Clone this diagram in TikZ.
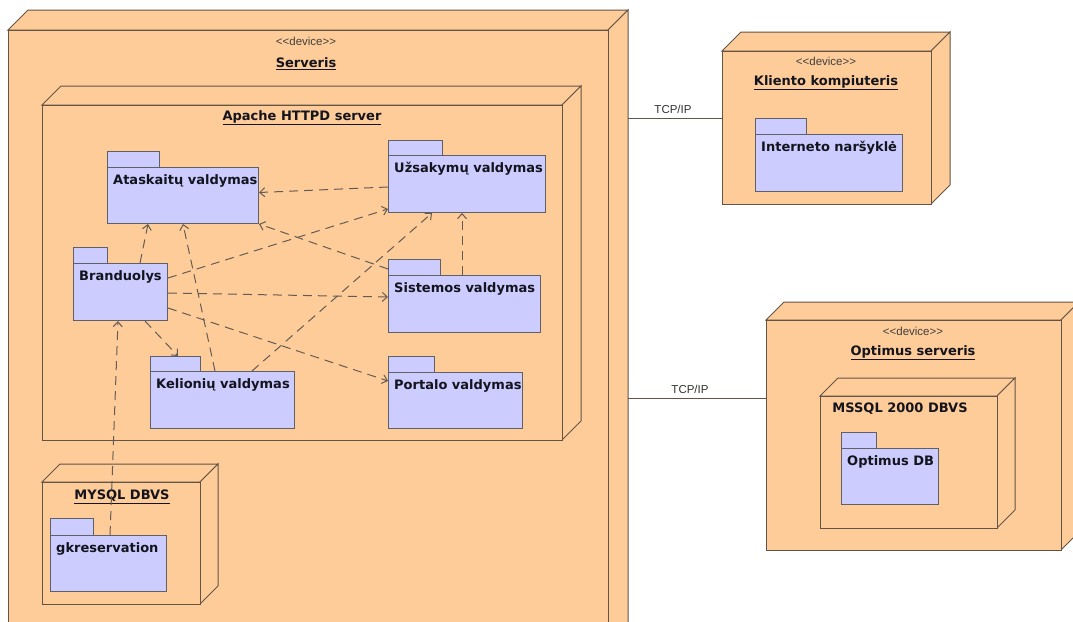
\documentclass[tikz,border=0pt]{standalone}
\usepackage{fontspec}
\setmainfont{DejaVu Sans}
\newfontfamily\libsans{Liberation Sans}
\usetikzlibrary{arrows.meta,calc}
\definecolor{devfill}{RGB}{254,204,153}
\definecolor{devline}{RGB}{100,84,70}
\definecolor{pkgfill}{RGB}{204,204,255}
\definecolor{pkgline}{RGB}{96,96,104}
\definecolor{depline}{RGB}{100,92,84}
\definecolor{txt}{RGB}{20,20,30}
\tikzset{
  dev/.style={fill=devfill, draw=devline, line width=1pt, inner sep=0pt},
  pkgbox/.style={fill=pkgfill, draw=pkgline, line width=1pt, inner sep=0pt},
  pkgtext/.style={inner sep=0pt, font=\fontsize{13}{15}\selectfont\bfseries, text=txt},
  ttl/.style={inner sep=0pt, font=\fontsize{13}{15}\selectfont\bfseries, text=txt},
  stereo/.style={inner sep=0pt, font=\libsans\fontsize{11.5}{13}\selectfont, text=black!75},
  lbl/.style={inner sep=0pt, font=\libsans\fontsize{11.5}{13}\selectfont, text=black!80},
  dep/.style={draw=depline, line width=1pt, dash pattern=on 9pt off 6pt, -{Straight Barb[length=5pt,width=9pt]}},
  link/.style={draw=devline, line width=1pt}
}
% name, x1, y1, x2, y2, depth
\newcommand{\devbox}[6]{%
  \filldraw[dev] (#2,#3) -- ({#2+#6},{#3-#6}) -- ({#4+#6},{#3-#6}) -- (#4,#3) -- cycle;
  \filldraw[dev] (#4,#3) -- ({#4+#6},{#3-#6}) -- ({#4+#6},{#5-#6}) -- (#4,#5) -- cycle;
  \node[dev, anchor=north west, minimum width={(#4-#2)*1pt}, minimum height={(#5-#3)*1pt}] (#1) at (#2,#3) {};
}
% name, x1, y1, x2, y2, tabw, tabh, text
\newcommand{\pkgbox}[8]{%
  \node[pkgbox, anchor=north west, minimum width={(#4-#2)*1pt}, minimum height={(#5-#3)*1pt}] (#1) at (#2,#3) {};
  \filldraw[pkgbox] (#1.north west) rectangle ++(#6,-#7);
  \node[pkgtext, anchor=west] (#1-t) at ([xshift=6pt,yshift=-14pt]#1.north west) {#8};
}
\begin{document}
\begin{tikzpicture}[x=1pt,y=-1pt]
\useasboundingbox (0,0) rectangle (1073,621);
\fill[white] (0,0) rectangle (1073,621);
\clip (0,0) rectangle (1073,621);

% Serveris
\devbox{serv}{8}{30}{608}{660}{20}
\node[stereo] (serv-s) at (306,41) {<<device>>};
\node[ttl] (serv-t) at (306,64) {\underline{Serveris}};

% Apache
\devbox{apache}{42}{105}{562}{440}{19}
\node[ttl] (apache-t) at (302,118) {\underline{Apache HTTPD server}};

\pkgbox{atask}{107}{167}{258}{223}{52}{16}{Ataskaitų valdymas}
\pkgbox{uzs}{388}{155}{545}{212}{54}{15}{Užsakymų valdymas}
\pkgbox{bran}{73}{263}{167}{320}{34}{16}{Branduolys}
\pkgbox{sis}{388}{275}{540}{332}{52}{16}{Sistemos valdymas}
\pkgbox{kel}{150}{371}{294}{428}{50}{15}{Kelionių valdymas}
\pkgbox{port}{388}{372}{522}{428}{46}{16}{Portalo valdymas}

% MYSQL
\devbox{mysql}{42}{482}{200}{604}{18}
\node[ttl] (mysql-t) at (122,497) {\underline{MYSQL DBVS}};
\pkgbox{gk}{50}{535}{166}{591}{43}{17}{gkreservation}

% Kliento kompiuteris
\devbox{klient}{722}{51}{931}{204}{19}
\node[stereo] (klient-s) at (826,61) {<<device>>};
\node[ttl] (klient-t) at (826,83) {\underline{Kliento kompiuteris}};
\pkgbox{inet}{755}{134}{902}{191}{51}{16}{Interneto naršyklė}

% Optimus serveris
\devbox{opt}{766}{320}{1061}{550}{18}
\node[stereo] (opt-s) at (913,331) {<<device>>};
\node[ttl] (opt-t) at (913,353) {\underline{Optimus serveris}};
\devbox{mssql}{820}{396}{997}{528}{18}
\node[ttl] (mssql-t) at (900,409) {MSSQL 2000 DBVS};
\pkgbox{optdb}{841}{448}{938}{504}{35}{16}{Optimus DB}

% links
\coordinate (s1) at (628,118);
\coordinate (s2) at (628,398);
\draw[link] (s1) -- (klient.west |- s1);
\draw[link] (s2) -- (opt.west |- s2);
\node[lbl] (tcp1) at (673,109) {TCP/IP};
\node[lbl] (tcp2) at (690,389) {TCP/IP};

% dependencies
\draw[dep] ([yshift=-3pt]uzs.west) -- ([yshift=3pt]atask.east);
\draw[dep] ([xshift=67pt]bran.north west) -- ([xshift=41pt]atask.south west);
\draw[dep] ([xshift=65pt]kel.north west) -- ([xshift=76pt]atask.south west);
\draw[dep] ([yshift=-15pt]bran.north east) -- ([yshift=4pt]uzs.south west);
\draw[dep] ([xshift=102pt]kel.north west) -- ([xshift=44pt]uzs.south west);
\draw[dep] ([xshift=74pt]sis.north west) -- ([xshift=74pt]uzs.south west);
\draw[dep] ([yshift=6pt]sis.north west) -- (atask.south east);
\draw[dep] ([yshift=-30pt]bran.north east) -- ([yshift=-22pt]sis.north west);
\draw[dep] ([yshift=-45pt]bran.north east) -- ([yshift=-9pt]port.north west);
\draw[dep] ([xshift=72pt]bran.south west) -- ([xshift=28pt,yshift=15pt]kel.north west);
\draw[dep] ([xshift=60pt]gk.north west) -- ([xshift=45pt]bran.south west);
\end{tikzpicture}
\end{document}
